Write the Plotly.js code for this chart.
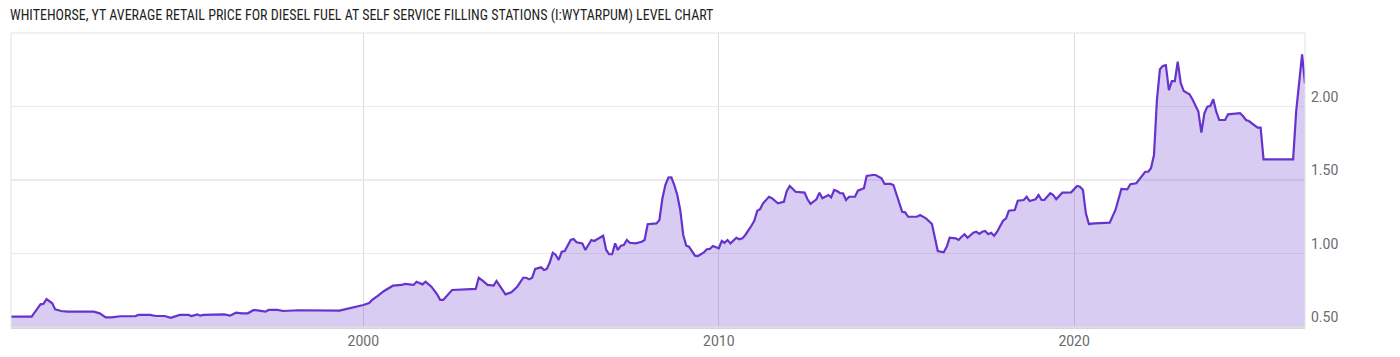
<!DOCTYPE html>
<html>
<head>
<meta charset="utf-8">
<script src="https://cdn.plot.ly/plotly-3.0.1.min.js"></script>
<style>
  html, body { margin: 0; padding: 0; background: #ffffff; }
  #chart { width: 1400px; height: 357px; }
</style>
</head>
<body>
<div id="chart"></div>
<script>
// Whitehorse, YT average retail price for diesel fuel at self service filling stations (CAD per litre)
const dates = [
  '1990-02','1990-09','1990-11','1990-12','1991-01','1991-02','1991-04','1991-05','1991-07','1991-09',
  '1992-06','1992-08','1992-10','1992-12','1993-03','1993-08','1993-09','1994-01','1994-03','1994-06',
  '1994-08','1994-09','1994-11','1995-02','1995-03','1995-05','1995-06','1995-07','1996-02','1996-04',
  '1996-06','1996-08','1996-10','1996-12','1997-02','1997-04','1997-05','1997-08','1997-10','1998-03',
  '1999-05','1999-07','1999-10','2000-01','2000-03','2000-04','2000-06','2000-08','2000-11','2001-02',
  '2001-03','2001-06','2001-07','2001-09','2001-10','2001-12','2002-02','2002-03','2002-04','2002-06',
  '2002-07','2003-03','2003-04','2003-05','2003-07','2003-09','2003-10','2003-12','2004-01','2004-03',
  '2004-05','2004-07','2004-08','2004-09','2004-10','2004-11','2005-01','2005-02','2005-03','2005-04',
  '2005-05','2005-06','2005-07','2005-08','2005-09','2005-11','2005-12','2006-01','2006-03','2006-04',
  '2006-06','2006-07','2006-08','2006-10','2006-11','2006-12','2007-01','2007-02','2007-03','2007-04',
  '2007-05','2007-06','2007-07','2007-09','2007-11','2007-12','2008-01','2008-04','2008-05','2008-06',
  '2008-07','2008-08','2008-09','2008-10','2008-11','2008-12','2009-01','2009-02','2009-03','2009-04',
  '2009-05','2009-06','2009-08','2009-09','2009-10','2009-11','2010-01','2010-02','2010-03','2010-04',
  '2010-05','2010-07','2010-08','2010-09','2010-10','2010-12','2011-01','2011-02','2011-03','2011-04',
  '2011-06','2011-07','2011-09','2011-11','2011-12','2012-01','2012-03','2012-06','2012-07','2012-08',
  '2012-10','2012-11','2012-12','2013-02','2013-03','2013-04','2013-05','2013-06','2013-07','2013-08',
  '2013-09','2013-11','2013-12','2014-02','2014-03','2014-05','2014-06','2014-08','2014-09','2014-11',
  '2014-12','2015-02','2015-03','2015-04','2015-05','2015-08','2015-09','2015-11','2016-01','2016-03',
  '2016-04','2016-05','2016-06','2016-07','2016-09','2016-10','2016-11','2016-12','2017-01','2017-03',
  '2017-04','2017-05','2017-06','2017-07','2017-08','2017-09','2017-10','2017-11','2018-01','2018-02',
  '2018-03','2018-05','2018-06','2018-08','2018-09','2018-10','2018-12','2019-01','2019-02','2019-03',
  '2019-05','2019-06','2019-07','2019-09','2019-12','2020-02','2020-03','2020-04','2020-05','2020-06',
  '2020-08','2021-01','2021-03','2021-04','2021-05','2021-07','2021-08','2021-10','2021-12','2022-01',
  '2022-02','2022-03','2022-04','2022-05','2022-06','2022-07','2022-08','2022-09','2022-10','2022-11',
  '2022-12','2023-01','2023-02','2023-04','2023-05','2023-07','2023-08','2023-09','2023-10','2023-11',
  '2023-12','2024-01','2024-02','2024-04','2024-05','2024-09','2024-10','2024-11','2024-12','2025-02',
  '2025-03','2025-04','2025-05','2026-03','2026-04','2026-06','2026-07'
];

const prices = [
  0.570,0.570,0.627,0.654,0.658,0.690,0.661,0.620,0.609,0.604,
  0.604,0.593,0.566,0.566,0.573,0.573,0.582,0.582,0.575,0.575,
  0.563,0.568,0.582,0.582,0.575,0.586,0.577,0.582,0.586,0.577,
  0.597,0.593,0.593,0.616,0.611,0.604,0.616,0.616,0.609,0.614,
  0.611,0.620,0.636,0.650,0.663,0.684,0.713,0.745,0.781,0.786,
  0.793,0.786,0.808,0.790,0.808,0.774,0.718,0.684,0.684,0.729,
  0.752,0.759,0.835,0.820,0.786,0.781,0.813,0.752,0.722,0.736,
  0.774,0.835,0.835,0.824,0.835,0.895,0.906,0.888,0.895,0.940,
  1.005,0.990,0.956,1.012,1.017,1.092,1.099,1.076,1.069,1.024,
  1.092,1.085,1.099,1.121,1.024,0.995,0.995,1.069,1.024,1.053,
  1.058,1.092,1.073,1.069,1.080,1.092,1.199,1.205,1.228,1.376,
  1.466,1.517,1.518,1.466,1.398,1.296,1.126,1.053,1.046,1.012,
  0.985,0.983,1.008,1.029,1.031,1.051,1.035,1.085,1.073,1.092,
  1.069,1.107,1.097,1.103,1.126,1.187,1.223,1.291,1.301,1.341,
  1.386,1.376,1.341,1.352,1.425,1.459,1.420,1.414,1.369,1.337,
  1.369,1.414,1.376,1.398,1.382,1.432,1.425,1.410,1.410,1.364,
  1.386,1.386,1.427,1.444,1.527,1.534,1.534,1.512,1.473,1.473,
  1.466,1.341,1.284,1.280,1.250,1.250,1.262,1.239,1.201,1.017,
  1.012,1.008,1.046,1.107,1.103,1.092,1.114,1.131,1.107,1.141,
  1.148,1.133,1.148,1.153,1.131,1.141,1.121,1.148,1.223,1.239,
  1.291,1.296,1.359,1.364,1.386,1.357,1.369,1.398,1.364,1.364,
  1.410,1.398,1.369,1.414,1.416,1.459,1.454,1.432,1.273,1.201,
  1.205,1.210,1.296,1.376,1.439,1.437,1.471,1.478,1.534,1.556,
  1.556,1.580,1.670,2.044,2.253,2.276,2.282,2.112,2.173,2.173,
  2.305,2.158,2.105,2.083,2.049,1.965,1.822,1.954,1.999,2.003,
  2.049,1.965,1.908,1.908,1.947,1.954,1.935,1.908,1.901,1.867,
  1.856,1.856,1.640,1.640,1.965,2.355,2.158
];

const yTicks = [0.5, 1.0, 1.5, 2.0];
const yTickText = ['0.50', '1.00', '1.50', '2.00'];
const xTicks = ['2000-01-01', '2010-01-01', '2020-01-01'];
const xTickText = ['2000', '2010', '2020'];

const lineColor = 'rgb(102,51,204)';

const trace = {
  x: dates,
  y: prices,
  type: 'scatter',
  mode: 'lines',
  line: { color: lineColor, width: 2.2, shape: 'linear' },
  fill: 'tozeroy',
  fillcolor: 'rgba(102,51,204,0.25)',
  hoverinfo: 'x+y'
};

const layout = {
  width: 1400,
  height: 357,
  margin: { l: 11, r: 95, t: 33, b: 30 },
  paper_bgcolor: '#ffffff',
  plot_bgcolor: '#ffffff',
  showlegend: false,
  title: {
    text: 'WHITEHORSE, YT AVERAGE RETAIL PRICE FOR DIESEL FUEL AT SELF SERVICE FILLING STATIONS (I:WYTARPUM) LEVEL CHART',
    x: 10 / 1400,
    xref: 'container',
    xanchor: 'left',
    y: 1 - 15 / 357,
    yref: 'container',
    yanchor: 'middle',
    font: {
      family: '"Roboto Condensed", "Liberation Sans Narrow", "DejaVu Sans Condensed", "Arial Narrow", sans-serif',
      size: 14,
      color: '#1e1e1e'
    }
  },
  xaxis: {
    type: 'date',
    range: [dates[0], dates[dates.length - 1]],
    tickmode: 'array',
    tickvals: xTicks,
    ticktext: xTickText,
    showgrid: true,
    gridcolor: '#dcdcdc',
    gridwidth: 1,
    zeroline: false,
    showline: true,
    linecolor: '#d6d6d6',
    linewidth: 2,
    ticks: '',
    tickfont: { family: 'Roboto, sans-serif', size: 14, color: '#6b6b6b' },
    fixedrange: true
  },
  yaxis: {
    side: 'right',
    range: [0.5, 2.5],
    tickmode: 'array',
    tickvals: yTicks,
    ticktext: yTickText,
    ticklabelposition: 'outside top',
    ticklabelstandoff: 5,
    showgrid: true,
    gridcolor: '#ebebeb',
    gridwidth: 1.5,
    zeroline: false,
    showline: false,
    ticks: '',
    tickfont: { family: 'Roboto, sans-serif', size: 14, color: '#6b6b6b' },
    fixedrange: true
  },
  shapes: [
    {
      type: 'rect', xref: 'paper', yref: 'paper',
      x0: 0, x1: 1, y0: 0, y1: 1,
      line: { color: '#e3e3e3', width: 1 },
      fillcolor: 'rgba(0,0,0,0)',
      layer: 'above'
    }
  ]
};

Plotly.newPlot('chart', [trace], layout, { displayModeBar: false, staticPlot: true });
</script>
</body>
</html>
